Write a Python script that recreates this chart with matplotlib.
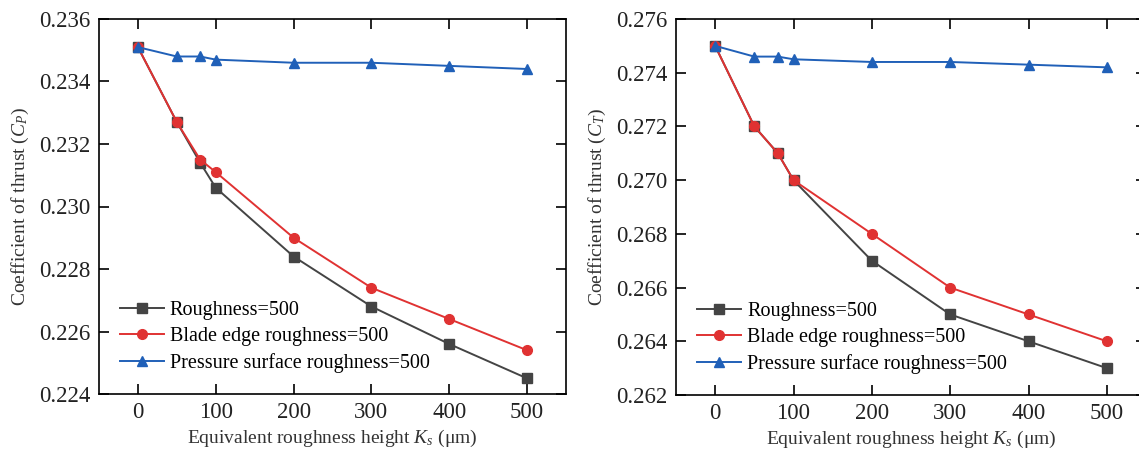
import matplotlib
matplotlib.use("Agg")
import matplotlib.pyplot as plt

plt.rcParams['font.family'] = ['Liberation Serif', 'DejaVu Serif']
plt.rcParams['mathtext.fontset'] = 'custom'
plt.rcParams['mathtext.rm'] = 'Liberation Serif'
plt.rcParams['mathtext.it'] = 'Liberation Serif:italic'

# Equivalent roughness height (um)
ks = [0, 50, 80, 100, 200, 300, 400, 500]

# Cp panel
cp_rough = [0.2351, 0.2327, 0.2314, 0.2306, 0.2284, 0.2268, 0.2256, 0.2245]
cp_edge = [0.2351, 0.2327, 0.2315, 0.2311, 0.2290, 0.2274, 0.2264, 0.2254]
cp_press = [0.2351, 0.2348, 0.2348, 0.2347, 0.2346, 0.2346, 0.2345, 0.2344]

# Ct panel
ct_rough = [0.2750, 0.2720, 0.2710, 0.2700, 0.2670, 0.2650, 0.2640, 0.2630]
ct_edge = [0.2750, 0.2720, 0.2710, 0.2700, 0.2680, 0.2660, 0.2650, 0.2640]
ct_press = [0.2750, 0.2746, 0.2746, 0.2745, 0.2744, 0.2744, 0.2743, 0.2742]

labels = ['Roughness=500', 'Blade edge roughness=500', 'Pressure surface roughness=500']
colors = ['#444444', '#e03232', '#2060b8']
markers = ['s', 'o', '^']

cp_ticks = [0.224, 0.226, 0.228, 0.230, 0.232, 0.234, 0.236]
ct_ticks = [0.262, 0.264, 0.266, 0.268, 0.270, 0.272, 0.274, 0.276]
x_ticks = [0, 100, 200, 300, 400, 500]

fig = plt.figure(figsize=(11.39, 4.53), dpi=100)
ax1 = fig.add_axes([99 / 1139, 1 - 394 / 453, 467 / 1139, 375 / 453])
ax2 = fig.add_axes([676 / 1139, 1 - 395 / 453, 470 / 1139, 376 / 453])

panels = [
    (ax1, [cp_rough, cp_edge, cp_press], cp_ticks, r'Coefficient of thrust ($C_P$)'),
    (ax2, [ct_rough, ct_edge, ct_press], ct_ticks, r'Coefficient of thrust ($C_T$)'),
]

for ax, series, yt, ylab in panels:
    for ys, lab, c, m in zip(series, labels, colors, markers):
        ax.plot(ks, ys, color=c, marker=m, markersize=7, linewidth=1.4, label=lab)
    ax.set_xlim(-50, 550)
    ax.set_ylim(yt[0], yt[-1])
    ax.set_yticks(yt)
    ax.set_yticklabels(['%.3f' % v for v in yt])
    ax.set_xticks(x_ticks)
    ax.tick_params(direction='in', top=True, right=True, length=7, width=1.2,
                   labelsize=16.5, pad=6, labelcolor='#222222')
    for s in ax.spines.values():
        s.set_linewidth(1.2)
    ax.set_xlabel(r'Equivalent roughness height $K_s$ ($\mathrm{\mu}$m)',
                  fontsize=14, color='#333333', labelpad=3)
    ax.set_ylabel(ylab, fontsize=14, color='#333333', labelpad=6)
    ax.legend(loc='lower left', frameon=False, fontsize=14.5, handlelength=2.2,
              handletextpad=0.3, labelspacing=0.35, borderaxespad=0.0,
              borderpad=0.0, bbox_to_anchor=(0.044, 0.055))

fig.savefig('out.png', dpi=100)
